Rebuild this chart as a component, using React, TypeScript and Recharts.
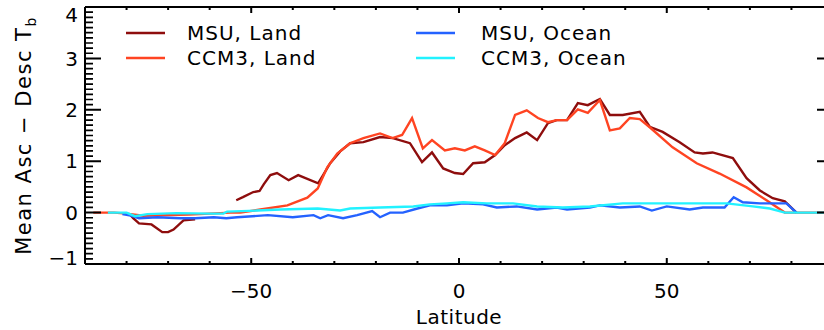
import React from 'react';
import { LineChart, Line, XAxis, YAxis, Legend } from 'recharts';

// [latitude, mean ascending minus descending Tb]; null breaks the line
type Pt = [number, number | null];

const msuLand: Pt[] = [
  [-79, -0.05], [-78.4, -0.11], [-77, -0.21], [-74, -0.23], [-71.4, -0.38], [-70, -0.38],
  [-68.7, -0.33], [-66.3, -0.15], [-63.5, -0.13], [-60, null],
  [-53.6, 0.24], [-52, 0.3], [-49.5, 0.4], [-48, 0.42], [-47, 0.55], [-45.4, 0.73],
  [-43.8, 0.77], [-41, 0.63], [-38.7, 0.73], [-33.9, 0.57], [-32.7, 0.73], [-31, 0.96],
  [-28.6, 1.19], [-26.2, 1.35], [-23, 1.37], [-19, 1.47], [-15.9, 1.45], [-11.8, 1.35],
  [-8.9, 0.98], [-6.5, 1.17], [-3.8, 0.86], [-1, 0.77], [1, 0.75], [3.4, 0.96],
  [6.2, 0.98], [8.7, 1.12], [11, 1.31], [13.5, 1.45], [16.3, 1.56], [18.8, 1.41],
  [21.4, 1.74], [23.5, 1.8], [26, 1.8], [28.6, 2.13], [31, 2.09], [33.9, 2.21],
  [36.3, 1.9], [39.4, 1.9], [43.5, 1.96], [45.9, 1.67], [49, 1.57], [53.1, 1.37],
  [56.7, 1.17], [58.7, 1.15], [61, 1.17], [65.9, 1.06], [69.2, 0.67], [72.4, 0.43],
  [75.5, 0.28], [78.4, 0.22], [81.2, 0],
];

const ccm3Land: Pt[] = [
  [-88, 0], [-83, 0], [-80, -0.02], [-76, -0.06], [-70, -0.05], [-65, -0.04],
  [-60, -0.02], [-55, 0], [-52.6, 0], [-47.8, 0.06], [-41.3, 0.14], [-36.5, 0.29],
  [-34, 0.47], [-31.7, 0.88], [-29.3, 1.15], [-26.2, 1.35], [-23, 1.45], [-19, 1.54],
  [-16, 1.45], [-13.7, 1.51], [-11.3, 1.84], [-8.7, 1.25], [-6.5, 1.41], [-3.4, 1.21],
  [-1, 1.25], [1.4, 1.21], [3.8, 1.29], [6.2, 1.21], [8.7, 1.12], [11, 1.35],
  [13.5, 1.9], [16.3, 1.99], [19, 1.84], [21.4, 1.76], [23.5, 1.8], [26, 1.8],
  [28.6, 2.01], [31, 1.94], [33.9, 2.19], [36.3, 1.6], [38.7, 1.64], [41.1, 1.84],
  [43.5, 1.82], [45.9, 1.66], [51.4, 1.27], [57.2, 0.96], [62.7, 0.76], [69.2, 0.49],
  [74, 0.24], [78.4, 0], [88, 0],
];

const msuOcean: Pt[] = [
  [-81, -0.03], [-79, -0.06], [-77, -0.11], [-72.6, -0.09], [-67, -0.11], [-63.5, -0.11],
  [-59, -0.09], [-56, -0.11], [-53.4, -0.09], [-46, -0.05], [-40, -0.09], [-35, -0.05],
  [-33.4, -0.11], [-31.5, -0.05], [-27.9, -0.11], [-24.5, -0.05], [-20.9, 0.03], [-19, -0.09],
  [-16.6, 0], [-13.5, 0], [-10, 0.08], [-7, 0.14], [-2.9, 0.14], [1, 0.18],
  [5.8, 0.16], [9.1, 0.1], [13.9, 0.12], [18.8, 0.06], [23.5, 0.1], [26, 0.06],
  [31.5, 0.1], [33.9, 0.14], [38.7, 0.1], [43.5, 0.12], [46.4, 0.04], [50, 0.12],
  [55.5, 0.06], [58.7, 0.1], [63.9, 0.1], [66.1, 0.3], [68.3, 0.2], [72.4, 0.18],
  [78.8, 0.18], [81.2, 0],
];

const ccm3Ocean: Pt[] = [
  [-84.5, 0], [-80, 0], [-78, -0.07], [-75, -0.03], [-68, -0.01], [-60, -0.02],
  [-56.7, -0.02], [-55.8, 0.02], [-48.5, 0.04], [-43, 0.06], [-34, 0.08], [-28.6, 0.04],
  [-26.2, 0.08], [-19, 0.1], [-11, 0.12], [-7, 0.16], [-2.9, 0.18], [1, 0.2],
  [6.7, 0.18], [13, 0.18], [18.8, 0.12], [25, 0.1], [31.5, 0.12], [39.4, 0.18],
  [49, 0.18], [57.2, 0.18], [64.4, 0.18], [70.7, 0.12], [74.8, 0.08], [78.4, 0], [90, 0],
];

const LAT_MIN = -90;
const LAT_MAX = 90;
const VAL_MIN = -1;
const VAL_MAX = 4;
const latLabels = [-50, 0, 50];
const valLabels = [-1, 0, 1, 2, 3, 4];
// tick marks: every 10 degrees of latitude, every 0.1 of the value axis
const latMarks = Array.from({ length: 17 }, (_, i) => -80 + i * 10);
const valMarks = Array.from({ length: 49 }, (_, i) => (i - 9) / 10);

const series = [
  { key: 'msuLand', name: 'MSU, Land', color: '#8e0d0d', points: msuLand },
  { key: 'ccm3Land', name: 'CCM3, Land', color: '#ff4422', points: ccm3Land },
  { key: 'msuOcean', name: 'MSU, Ocean', color: '#2462ff', points: msuOcean },
  { key: 'ccm3Ocean', name: 'CCM3, Ocean', color: '#22f2ff', points: ccm3Ocean },
];

const MARGIN = { top: 7, right: 17, bottom: 0, left: 0 };
const FONT = '"DejaVu Sans", sans-serif';
const fmt = (v: number) => (v < 0 ? `\u2212${Math.abs(v)}` : `${v}`);
const toRows = (pts: Pt[]) => pts.map(([lat, v]) => ({ lat, v }));
const isMajorVal = (v: number) => valLabels.some((m) => Math.abs(m - v) < 1e-6);

const BottomLabel = (p: any) => (
  <text x={p.x} y={p.y + 34} textAnchor="middle" fontSize={20} fontFamily={FONT} fill="#000">
    {fmt(p.payload.value)}
  </text>
);

const LeftLabel = (p: any) => {
  const v = Number(p.payload.value);
  const shift = v === VAL_MAX ? 8 : v === VAL_MIN ? -6 : 0;
  return (
    <text x={p.x - 7} y={p.y + shift} dy="0.36em" textAnchor="end" fontSize={20} fontFamily={FONT} fill="#000">
      {fmt(v)}
    </text>
  );
};

const YTitle = (p: any) => {
  const vb = p.viewBox || { x: 0, y: 7, width: 85, height: 257 };
  const cx = vb.x + 31;
  const cy = vb.y + vb.height / 2;
  return (
    <text
      transform={`translate(${cx},${cy}) rotate(-90)`}
      textAnchor="middle"
      fontSize={21}
      fontFamily={FONT}
      letterSpacing={1.5}
      fill="#000"
    >
      Mean Asc  {'\u2212'}  Desc T
      <tspan fontSize={14} dy={5}>b</tspan>
    </text>
  );
};

// x-axis title plus the frame and IDL-style inward ticks on all four sides
const XTitle = (p: any) => {
  const vb = p.viewBox || { x: 85, y: 264, width: 748, height: 66 };
  const left = vb.x;
  const right = vb.x + vb.width;
  const bottom = vb.y;
  const top = MARGIN.top;
  const xOf = (lat: number) => left + ((lat - LAT_MIN) / (LAT_MAX - LAT_MIN)) * vb.width;
  const yOf = (v: number) => top + ((VAL_MAX - v) / (VAL_MAX - VAL_MIN)) * (bottom - top);
  const latTicks = latMarks
    .map((lat) => {
      const len = latLabels.includes(lat) ? 6 : 3;
      const x = xOf(lat).toFixed(2);
      return `M${x},${bottom}v${-len}M${x},${top}v${len}`;
    })
    .join('');
  const minorVals = valMarks.filter((v) => !isMajorVal(v));
  const minorComb = minorVals
    .map((v) => {
      const y = yOf(v).toFixed(2);
      return `M${left},${y}h8M${right},${y}h-8`;
    })
    .join('');
  const majorComb = valLabels
    .map((v) => {
      const y = yOf(v).toFixed(2);
      return `M${left},${y}h16M${right},${y}h-16`;
    })
    .join('');
  return (
    <g>
      <path d={`M${left},${top}H${right}V${bottom}`} stroke="#000" strokeWidth={2} fill="none" />
      <path d={latTicks} stroke="#000" strokeWidth={2} fill="none" />
      <path d={minorComb} stroke="#000" strokeWidth={1.7} fill="none" />
      <path d={majorComb} stroke="#000" strokeWidth={2} fill="none" />
      <text x={(left + right) / 2} y={bottom + 60} textAnchor="middle" fontSize={20} fontFamily={FONT} letterSpacing={0.5} fill="#000">
        Latitude
      </text>
    </g>
  );
};

const legendSlots = [
  { lineX: 126, textX: 187, y: 33 },
  { lineX: 126, textX: 187, y: 58 },
  { lineX: 416, textX: 481, y: 33 },
  { lineX: 416, textX: 481, y: 58 },
];

const LegendBox = () => (
  <svg width={824} height={80} style={{ display: 'block' }}>
    {series.map((s, i) => {
      const slot = legendSlots[i];
      return (
        <g key={s.key}>
          <line x1={slot.lineX} x2={slot.lineX + 39} y1={slot.y} y2={slot.y} stroke={s.color} strokeWidth={2.5} />
          <text x={slot.textX} y={slot.y + 7} fontSize={20} fontFamily={FONT} letterSpacing={1} fill="#000">
            {s.name}
          </text>
        </g>
      );
    })}
  </svg>
);

const frame = { stroke: '#000', strokeWidth: 2 };

export default function App() {
  return (
    <div style={{ position: 'absolute', left: 0, top: 0, width: 824, height: 330, overflow: 'hidden', background: '#fff' }}>
      <LineChart width={850} height={330} margin={MARGIN}>
        <XAxis
          dataKey="lat"
          type="number"
          domain={[LAT_MIN, LAT_MAX]}
          ticks={latLabels}
          interval={0}
          height={66}
          tickSize={0}
          tickMargin={0}
          tickLine={false}
          axisLine={frame}
          tick={<BottomLabel />}
          label={<XTitle />}
        />
        <YAxis
          type="number"
          domain={[VAL_MIN, VAL_MAX]}
          ticks={valLabels}
          interval={0}
          width={85}
          tickSize={0}
          tickMargin={0}
          tickLine={false}
          axisLine={frame}
          tick={<LeftLabel />}
          label={<YTitle />}
        />
        <Legend
          layout="horizontal"
          verticalAlign="middle"
          align="center"
          wrapperStyle={{ position: 'absolute', left: 0, top: 0, width: 824, height: 80 }}
          content={() => <LegendBox />}
        />
        {series.map((s) => (
          <Line
            key={s.key}
            name={s.name}
            data={toRows(s.points)}
            dataKey="v"
            type="linear"
            stroke={s.color}
            strokeWidth={2.4}
            dot={false}
            activeDot={false}
            isAnimationActive={false}
          />
        ))}
      </LineChart>
    </div>
  );
}
